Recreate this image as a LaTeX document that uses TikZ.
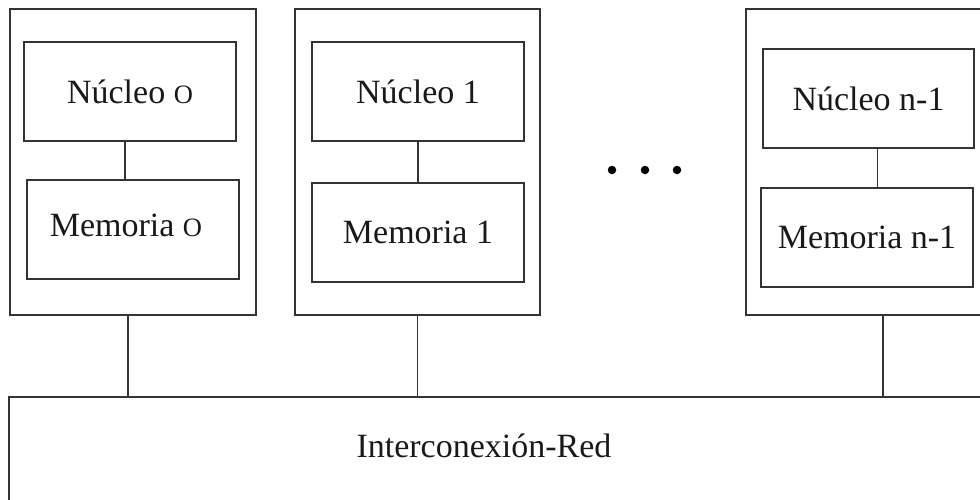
\documentclass[tikz,border=0pt]{standalone}
\usepackage{fontspec}
\usepackage{graphicx}
\setmainfont{Liberation Serif}
\newcommand{\oz}{\scalebox{0.78}{O}}
\begin{document}
\begin{tikzpicture}[x=1pt,y=-1pt,
  ln/.style={line width=1.3pt,draw=black!80},
  unit/.style={ln,rectangle,inner sep=0pt,outer sep=0pt},
  txt/.style={font=\fontsize{34}{40}\selectfont,text=black!90},
  dotn/.style={circle,fill=black,inner sep=0pt,minimum size=8.5pt}]
\clip (0,0) rectangle (980,499);
\useasboundingbox (0,0) rectangle (980,499);
% outer units
\node[unit,minimum width=246,minimum height=306] (u0) at (133,162) {};
\node[unit,minimum width=245,minimum height=306] (u1) at (417.5,162) {};
\node[unit,minimum width=254,minimum height=306,anchor=north west] (un) at (746,9) {};
% inner boxes
\node[unit,txt,minimum width=212,minimum height=99] (n0) at (130,91.5) {Núcleo \oz};
\node[unit,txt,minimum width=212,minimum height=99] (m0) at (133,229.5) {\raisebox{4pt}[\height][\depth]{Memoria \oz}\kern14pt};
\node[unit,txt,minimum width=212,minimum height=99] (n1) at (418,91.5) {Núcleo 1};
\node[unit,txt,minimum width=212,minimum height=99] (m1) at (418,232.5) {Memoria 1};
\node[unit,txt,minimum width=211,minimum height=99] (nn) at (868.5,98.5) {Núcleo n-1};
\node[unit,txt,minimum width=212,minimum height=99] (mn) at (867,237.5) {Memoria n-1};
% network
\node[unit,minimum width=1040,minimum height=200,anchor=north west] (net) at (9,397) {};
\node[txt] (netlab) at (484,446) {Interconexión-Red};
% dots
\node[dotn] (d1) at (612,170) {};
\node[dotn] (d2) at (645,170) {};
\node[dotn] (d3) at (677,170) {};
% connectors
\draw[ln] ([xshift=-5pt]n0.south) -- ([xshift=-5pt]n0.south |- m0.north);
\draw[ln] (n1.south) -- (n1.south |- m1.north);
\draw[ln] ([xshift=9pt]nn.south) -- ([xshift=9pt]nn.south |- mn.north);
\draw[ln] ([xshift=-5pt]u0.south) -- ([xshift=-5pt]u0.south |- net.north);
\draw[ln] (u1.south) -- (u1.south |- net.north);
\coordinate (unb) at (883,315);
\draw[ln] (unb) -- (unb |- net.north);
\end{tikzpicture}
\end{document}
